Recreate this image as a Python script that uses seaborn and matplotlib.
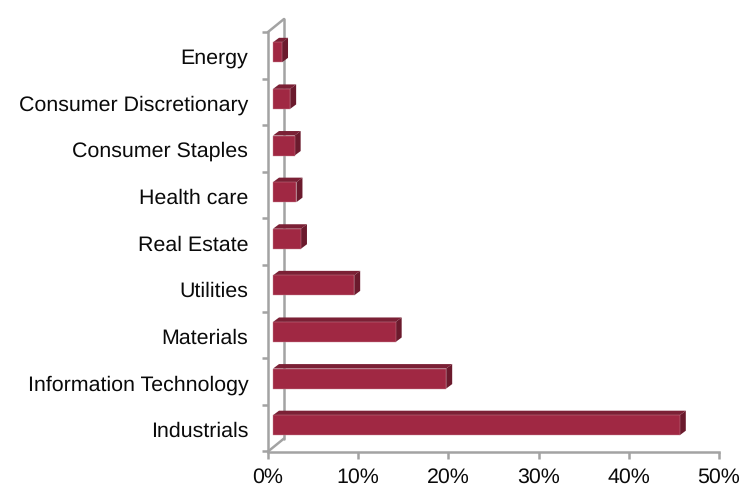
#!/usr/bin/env python3
"""Horizontal bars with a faux 3D look, sector weights."""

import matplotlib

matplotlib.use("Agg")
import matplotlib.pyplot as plt
import matplotlib.transforms as mtrans
import pandas as pd
import seaborn as sns
from matplotlib.patches import Polygon

SECTORS = [
    "Energy",
    "Consumer Discretionary",
    "Consumer Staples",
    "Health care",
    "Real Estate",
    "Utilities",
    "Materials",
    "Information Technology",
    "Industrials",
]
WEIGHTS = [1.0, 1.9, 2.4, 2.6, 3.1, 9.0, 13.6, 19.2, 45.1]
X_TICKS = [0, 10, 20, 30, 40, 50]

FRONT = "#A02843"
TOP = "#7B2035"
SIDE = "#6B1A2D"
EDGE = "#C98A98"
AXIS = "#A3A3A3"
W, H = 741, 489
DPI = 100
LW = 1.8
FONT_SIZE = 15.4


def main() -> None:
    sns.set_style("white")
    plt.rcParams["font.family"] = ["Liberation Sans", "DejaVu Sans"]
    plt.rcParams["text.hinting"] = "none"
    plt.rcParams["text.hinting_factor"] = 8

    fig = plt.figure(figsize=(W / DPI, H / DPI), dpi=DPI)
    ax = fig.add_axes([268 / W, 1 - 452.5 / H, 451 / W, 419.5 / H])

    df = pd.DataFrame({"sector": SECTORS, "weight": WEIGHTS})
    sns.barplot(
        data=df,
        y="sector",
        x="weight",
        order=SECTORS,
        color=FRONT,
        saturation=1,
        width=20 / 46.6,
        orient="h",
        ax=ax,
    )

    ax.set_xlim(0, 50)
    ax.set_ylim(len(SECTORS) - 0.5, -0.5)

    # bars sit a bit inside the floor, push them back by a few pixels
    shift = mtrans.ScaledTranslation(5 / DPI, 3 / DPI, fig.dpi_scale_trans)
    bar_trans = ax.transData + shift
    dx = 6 * 50 / 451
    dy = 4.5 * len(SECTORS) / 419.5
    for patch in list(ax.patches):
        x, y = patch.get_x(), patch.get_y()
        w, h = patch.get_width(), patch.get_height()
        patch.set_transform(bar_trans)
        patch.set_edgecolor(EDGE)
        patch.set_linewidth(0.3)
        patch.set_clip_on(False)
        patch.set_zorder(4)
        # y axis is inverted, y is the upper edge of the bar
        top_face = [(x, y), (x + dx, y - dy), (x + w + dx, y - dy), (x + w, y)]
        side_face = [
            (x + w, y),
            (x + w + dx, y - dy),
            (x + w + dx, y + h - dy),
            (x + w, y + h),
        ]
        for verts, col in ((top_face, TOP), (side_face, SIDE)):
            ax.add_patch(
                Polygon(verts, closed=True, facecolor=col, edgecolor="none",
                        transform=bar_trans, clip_on=False, zorder=3.5)
            )

    sns.despine(ax=ax, top=True, right=True)
    for side in ("left", "bottom"):
        ax.spines[side].set_color(AXIS)
        ax.spines[side].set_linewidth(LW)

    ax.set_xlabel("")
    ax.set_ylabel("")
    ax.set_xticks(X_TICKS, [f"{t}%" for t in X_TICKS])
    ax.set_yticks(range(len(SECTORS)), SECTORS)
    ax.set_yticks([i - 0.5 for i in range(len(SECTORS) + 1)], minor=True)
    ax.tick_params(axis="y", which="major", length=0, pad=14.2, labelsize=FONT_SIZE, labelcolor="#0A0A0A")
    ax.tick_params(axis="y", which="minor", length=4.5, width=LW, color=AXIS, left=True)
    ax.tick_params(axis="x", length=5, width=LW, color=AXIS, pad=6, labelsize=FONT_SIZE,
                   labelcolor="#0A0A0A", bottom=True)

    # back wall of the 3D box
    wall = ax.transAxes + mtrans.ScaledTranslation(16 / DPI, 13 / DPI, fig.dpi_scale_trans)
    ax.plot([0, 0], [0, 1], color=AXIS, lw=LW, transform=wall, clip_on=False, zorder=1)
    for y_frac in (0, 1):
        p0 = ax.transAxes.transform((0, y_frac))
        p1 = wall.transform((0, y_frac))
        ax.plot([p0[0], p1[0]], [p0[1], p1[1]], color=AXIS, lw=LW, transform=None,
                clip_on=False, zorder=1)

    fig.savefig("out.png", dpi=DPI)
    plt.close(fig)


if __name__ == "__main__":
    main()
